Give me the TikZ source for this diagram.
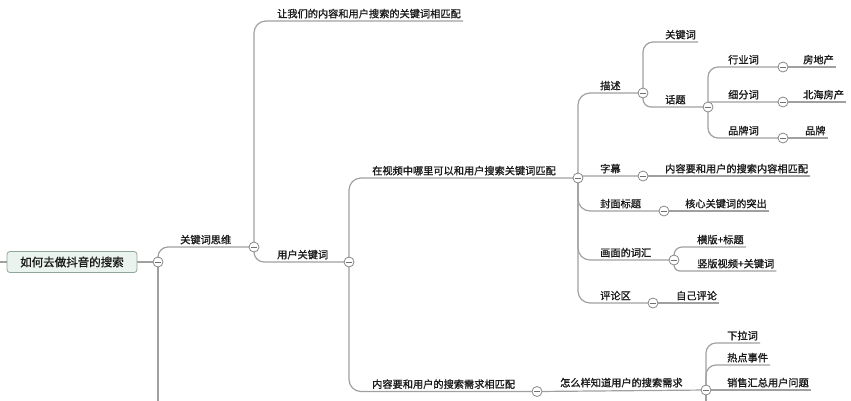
\documentclass[tikz,border=0pt]{standalone}
\usepackage{fontspec}
\newfontfamily\cjk[FakeBold=1.1]{Noto Sans CJK SC}
\usetikzlibrary{backgrounds}
\definecolor{ln}{HTML}{A0A0A0}
\definecolor{tx}{HTML}{1A1A1A}
\definecolor{rootfill}{HTML}{EAF3EE}
\definecolor{rootdraw}{HTML}{8FA597}
\tikzset{
  lbl/.style={font=\cjk\fontsize{10.2}{12}\selectfont, text=tx, inner sep=0pt, anchor=base west},
  knob/.style={circle, draw=ln!85!black, fill=white, line width=0.8pt, minimum size=10pt, inner sep=0pt,
    path picture={\draw[ln!70!black, line width=1pt] ([xshift=-2.8pt]path picture bounding box.center) -- ([xshift=2.8pt]path picture bounding box.center);}},
  conn/.style={draw=ln, line width=1.2pt, rounded corners=#1},
  conn/.default=10pt,
  rootbox/.style={draw=rootdraw, fill=rootfill, rounded corners=3pt, line width=0.8pt,
    minimum width=130pt, minimum height=21pt, inner sep=0pt,
    font=\cjk\fontsize{11.5}{13}\selectfont, text=tx}
}
\begin{document}
\begin{tikzpicture}[x=1pt,y=-1pt]
\useasboundingbox (0,0) rectangle (851,400);

% root
\node[rootbox] (root) at (72,262) {如何去做抖音的搜索};
\node[knob] (k0) at (158,262) {};
\coordinate (edgeL) at (-3,262);
\coordinate (k0bot) at (158,406);

% level 1
\node[lbl] (t1) at (180,243.5) {关键词思维};
\node[knob] (k1) at (254,247) {};
\node[lbl] (t2) at (277,17.5) {让我们的内容和用户搜索的关键词相匹配};
\node[lbl] (t3) at (277,258.5) {用户关键词};
\node[knob] (k3) at (349,262) {};

% level 2
\node[lbl] (t4) at (372,174.5) {在视频中哪里可以和用户搜索关键词匹配};
\node[knob] (k4) at (578,178) {};
\node[lbl] (t5) at (372,388) {内容要和用户的搜索需求相匹配};
\node[knob] (k5) at (537,391.5) {};

% lower branch
\node[lbl] (t6) at (560,386.5) {怎么样知道用户的搜索需求};
\node[knob] (k6) at (706,390) {};
\coordinate (k6bot) at (706,406);
\node[lbl] (t7) at (727,339.5) {下拉词};
\node[lbl] (t8) at (727,361.5) {热点事件};
\node[lbl] (t9) at (727,386.5) {销售汇总用户问题};

% upper branch: 描述
\node[lbl] (a1) at (600,89.5) {描述};
\node[knob] (ka1) at (643,93) {};
\node[lbl] (a2) at (665,38.5) {关键词};
\node[lbl] (a3) at (665,103.5) {话题};
\node[knob] (ka3) at (708,107) {};
\node[lbl] (a4) at (728,63.5) {行业词};
\node[knob] (ka4) at (783,67) {};
\node[lbl] (a5) at (803,63.5) {房地产};
\node[lbl] (a6) at (728,98.5) {细分词};
\node[knob] (ka6) at (783,102) {};
\node[lbl] (a7) at (803,98.5) {北海房产};
\node[lbl] (a8) at (728,134.5) {品牌词};
\node[knob] (ka8) at (783,138) {};
\node[lbl] (a9) at (805,134.5) {品牌};

% 字幕
\node[lbl] (b1) at (600,172.5) {字幕};
\node[knob] (kb1) at (643,176) {};
\node[lbl] (b2) at (665,172.5) {内容要和用户的搜索内容相匹配};

% 封面标题
\node[lbl] (c1) at (600,207.5) {封面标题};
\node[knob] (kc1) at (664,211) {};
\node[lbl] (c2) at (685,207.5) {核心关键词的突出};

% 画面的词汇
\node[lbl] (d1) at (600,256.5) {画面的词汇};
\node[knob] (kd1) at (674,260) {};
\node[lbl] (d2) at (697,243.5) {横版+标题};
\node[lbl] (d3) at (697,267.5) {竖版视频+关键词};

% 评论区
\node[lbl] (e1) at (600,299.5) {评论区};
\node[knob] (ke1) at (653,303) {};
\node[lbl] (e2) at (676,299.5) {自己评论};

\begin{pgfonlayer}{background}
\draw[conn] (edgeL) -- (root.west);
\draw[conn] (root.east) -- (k0.center);
\draw[conn] (k0.center) -- (k0bot);
\draw[conn] (k0.center) |- (k1.center);
\draw[conn=12pt] (k1.center) |- ([xshift=2pt,yshift=-3.5pt]t2.base east);
\draw[conn] (k1.center) |- (k3.center);
\draw[conn=12pt] (k3.center) |- (k4.center);
\draw[conn=12pt] (k3.center) |- (k5.center);
\draw[conn] (k5.center) -- (k6.center);
\draw[conn] (k6.center) -- (k6bot);
\draw[conn] (k6.center) |- ([xshift=2pt,yshift=-3.5pt]t7.base east);
\draw[conn] (k6.center) |- ([xshift=2pt,yshift=-3.5pt]t8.base east);
\draw[conn=0pt] (k6.center) -- ([xshift=2pt,yshift=-3.5pt]t9.base east);
% 描述
\draw[conn=12pt] (k4.center) |- (ka1.center);
\draw[conn] (ka1.center) |- ([xshift=2pt,yshift=-3.5pt]a2.base east);
\draw[conn=8pt] (ka1.center) |- (ka3.center);
\draw[conn] (ka3.center) |- (ka4.center);
\draw[conn=2pt] (ka3.center) |- (ka6.center);
\draw[conn] (ka3.center) |- (ka8.center);
\draw[conn=0pt] (ka4.center) -- ([xshift=2pt,yshift=-3.5pt]a5.base east);
\draw[conn=0pt] (ka6.center) -- ([xshift=2pt,yshift=-3.5pt]a7.base east);
\draw[conn=0pt] (ka8.center) -- ([xshift=2pt,yshift=-3.5pt]a9.base east);
% 字幕
\draw[conn=1pt] (k4.center) |- (kb1.center);
\draw[conn=0pt] (kb1.center) -- ([xshift=2pt,yshift=-3.5pt]b2.base east);
% 封面标题
\draw[conn=12pt] (k4.center) |- (kc1.center);
\draw[conn=0pt] (kc1.center) -- ([xshift=2pt,yshift=-3.5pt]c2.base east);
% 画面的词汇
\draw[conn=12pt] (k4.center) |- (kd1.center);
\draw[conn=8pt] (kd1.center) |- ([xshift=2pt,yshift=-3.5pt]d2.base east);
\draw[conn=6pt] (kd1.center) |- ([xshift=2pt,yshift=-3.5pt]d3.base east);
% 评论区
\draw[conn=12pt] (k4.center) |- (ke1.center);
\draw[conn=0pt] (ke1.center) -- ([xshift=2pt,yshift=-3.5pt]e2.base east);
\end{pgfonlayer}
\end{tikzpicture}
\end{document}
